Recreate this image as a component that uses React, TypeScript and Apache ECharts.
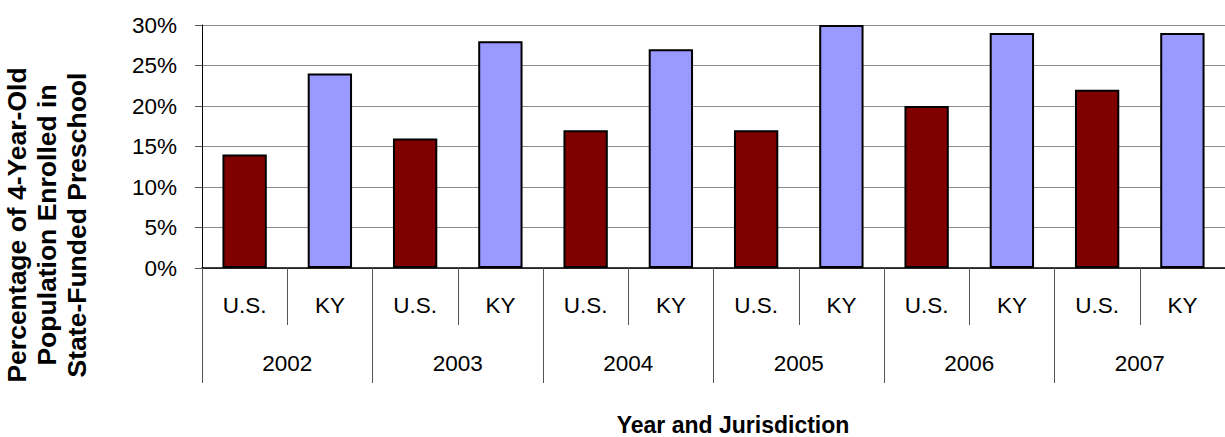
import React, { useEffect, useRef } from "react";
import * as echarts from "echarts";

const years = ["2002", "2003", "2004", "2005", "2006", "2007"];
const jurisdictions = ["U.S.", "KY"];
const usValues = [14, 16, 17, 17, 20, 22];
const kyValues = [24, 28, 27, 30, 29, 29];
const yTicks = [0, 5, 10, 15, 20, 25, 30];

const US_COLOR = "#800000";
const KY_COLOR = "#9999ff";
const FONT = "Liberation Sans, Arial, sans-serif";

export default function App() {
  const ref = useRef<HTMLDivElement>(null);
  useEffect(() => {
    document.body.style.margin = "0";
    if (!ref.current) return;
    const chart = echarts.init(ref.current, null, { renderer: "svg" });
    const cats: string[] = [];
    const data: any[] = [];
    years.forEach((y, i) => {
      cats.push(jurisdictions[0]);
      data.push({ value: usValues[i], itemStyle: { color: US_COLOR } });
      cats.push(jurisdictions[1]);
      data.push({ value: kyValues[i], itemStyle: { color: KY_COLOR } });
    });
    chart.setOption({
      animation: false,
      textStyle: { fontFamily: FONT },
      grid: { left: 202, top: 25, right: -4, bottom: 169, containLabel: false },
      xAxis: [
        {
          type: "category",
          data: cats,
          position: "bottom",
          axisLine: { show: true, lineStyle: { color: "#000", width: 1.5 } },
          axisTick: { show: true, length: 57, lineStyle: { color: "#555", width: 1 } },
          axisLabel: { fontSize: 22.5, color: "#000", margin: 26, fontFamily: FONT },
        },
        {
          type: "category",
          data: years,
          position: "bottom",
          axisLine: { show: false },
          axisTick: { show: true, length: 115, lineStyle: { color: "#555", width: 1 } },
          axisLabel: { fontSize: 22.5, color: "#000", margin: 84, fontFamily: FONT },
        },
      ],
      yAxis: {
        type: "value",
        min: 0,
        max: 30,
        interval: 5,
        axisLine: { show: true, lineStyle: { color: "#000", width: 1 } },
        axisTick: { show: true, length: 7, lineStyle: { color: "#555" } },
        axisLabel: {
          fontSize: 22.5,
          color: "#000",
          margin: 25,
          fontFamily: FONT,
          formatter: (v: number) => (yTicks.includes(v) ? v + "%" : ""),
        },
        splitLine: { show: true, lineStyle: { color: "#8c8c8c", width: 1.2 } },
      },
      series: [
        {
          type: "bar",
          xAxisIndex: 0,
          data,
          barWidth: "52%",
          itemStyle: { borderColor: "#000", borderWidth: 2 },
        },
      ],
      graphic: [
        {
          type: "text",
          x: 47,
          y: 225,
          rotation: Math.PI / 2,
          style: {
            text: "Percentage of 4-Year-Old\nPopulation Enrolled in\nState-Funded Preschool",
            font: "bold 26.5px " + FONT,
            fill: "#000",
            align: "center",
            verticalAlign: "middle",
            lineHeight: 30,
          },
        },
        {
          type: "text",
          x: 733,
          y: 425,
          style: {
            text: "Year and Jurisdiction",
            font: "bold 23px " + FONT,
            fill: "#000",
            align: "center",
            verticalAlign: "middle",
            lineHeight: 23,
          },
        },
      ],
    });
    return () => chart.dispose();
  }, []);
  return <div ref={ref} style={{ width: 1225, height: 437 }} />;
}
